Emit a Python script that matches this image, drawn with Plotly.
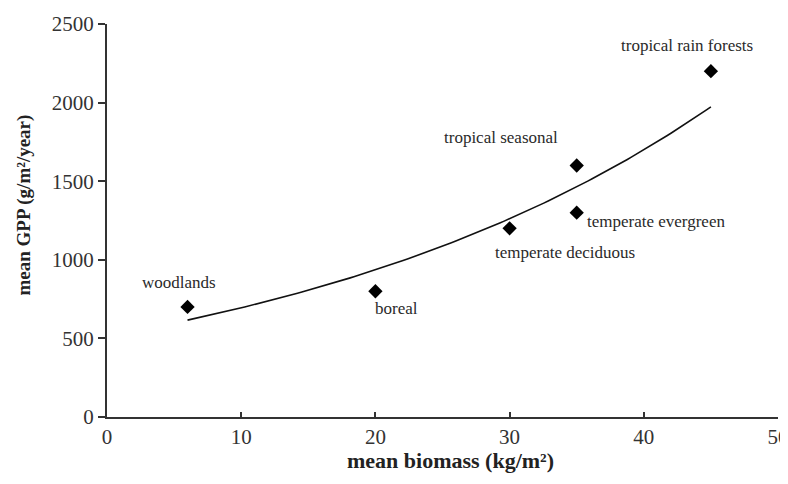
import numpy as np
import plotly.graph_objects as go

# Data
biome_names = ["woodlands", "boreal", "temperate deciduous", "tropical seasonal",
               "temperate evergreen", "tropical rain forests"]
mean_biomass = [6, 20, 30, 35, 35, 45]        # kg/m2
mean_gpp = [700, 800, 1200, 1600, 1300, 2200]  # g/m2/year

x_ticks = [0, 10, 20, 30, 40, 50]
y_ticks = [0, 500, 1000, 1500, 2000, 2500]

# Exponential trendline (least squares on log y), as in the original figure
b, ln_a = np.polyfit(np.array(mean_biomass, float), np.log(np.array(mean_gpp, float)), 1)
trend_x = np.linspace(min(mean_biomass), max(mean_biomass), 120)
trend_y = np.exp(ln_a) * np.exp(b * trend_x)

SERIF = "Liberation Serif, Times New Roman, serif"

fig = go.Figure()
fig.add_trace(go.Scatter(x=trend_x, y=trend_y, mode="lines",
                         line=dict(color="#111111", width=1.6),
                         hoverinfo="skip", showlegend=False))
fig.add_trace(go.Scatter(x=mean_biomass, y=mean_gpp, mode="markers",
                         marker=dict(symbol="diamond", size=11, color="#000000"),
                         text=biome_names, showlegend=False))

# label placement: (xanchor, xshift px, yshift px)
label_pos = {
    "woodlands": ("center", -9, 24),
    "boreal": ("left", -2, -17),
    "temperate deciduous": ("center", 55, -24),
    "tropical seasonal": ("center", -76, 28),
    "temperate evergreen": ("left", 8, -9),
    "tropical rain forests": ("center", -24, 26),
}
for name, xv, yv in zip(biome_names, mean_biomass, mean_gpp):
    anc, dx, dy = label_pos[name]
    fig.add_annotation(x=xv, y=yv, xref="x", yref="y", text=name, showarrow=False,
                       xanchor=anc, yanchor="middle", xshift=dx, yshift=dy,
                       font=dict(family=SERIF, size=17, color="#2a2a2a"))

# axis titles as annotations for exact placement
fig.add_annotation(x=0.5, y=0, xref="paper", yref="paper", text="<b>mean biomass (kg/m²)</b>",
                   showarrow=False, xanchor="center", yanchor="middle", xshift=8, yshift=-43,
                   font=dict(family=SERIF, size=22, color="#222222"))
fig.add_annotation(x=0, y=0.5, xref="paper", yref="paper", text="<b>mean GPP (g/m²/year)</b>",
                   showarrow=False, xanchor="center", yanchor="middle", xshift=-84, yshift=15,
                   textangle=-90, font=dict(family=SERIF, size=19, color="#222222"))

# page body has an 8px margin: figure is offset by 8px right/down
fig.update_layout(
    width=780, height=476,
    margin=dict(l=99, r=10, t=16, b=67),
    paper_bgcolor="white", plot_bgcolor="white",
    font=dict(family=SERIF, color="#222222"),
)
fig.update_xaxes(
    range=[0, 50], tickvals=x_ticks, ticktext=[str(v) for v in x_ticks],
    showgrid=False, zeroline=False, showline=True, linecolor="#333333", linewidth=2,
    ticks="inside", ticklen=5, tickwidth=1.5, tickcolor="#333333",
    tickfont=dict(family=SERIF, size=21, color="#333333"),
    ticklabeloverflow="allow", automargin=False,
)
fig.update_yaxes(
    range=[0, 2500], tickvals=y_ticks, ticktext=[str(v) for v in y_ticks],
    showgrid=False, zeroline=False, showline=True, linecolor="#333333", linewidth=2,
    ticks="outside", ticklen=7, tickwidth=1.5, tickcolor="#333333",
    tickfont=dict(family=SERIF, size=21, color="#333333"),
    automargin=False,
)

fig.write_html("out.html")
